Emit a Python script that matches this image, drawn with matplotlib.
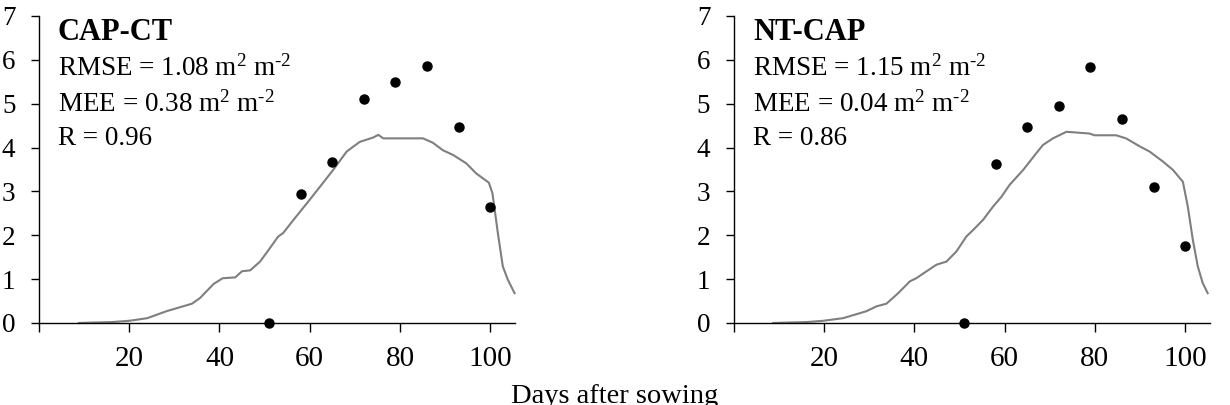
import matplotlib.pyplot as plt

plt.rcParams['font.family'] = ['Liberation Serif', 'DejaVu Serif']
plt.rcParams['mathtext.fontset'] = 'custom'
plt.rcParams['mathtext.rm'] = 'Liberation Serif'
plt.rcParams['mathtext.it'] = 'Liberation Serif:italic'
plt.rcParams['mathtext.bf'] = 'Liberation Serif:bold'

# observed LAI
obs_days = [51, 58, 65, 72, 79, 86, 93, 100]
obs_capct = [0.0, 2.94, 3.66, 5.1, 5.5, 5.87, 4.48, 2.65]
obs_ntcap = [0.0, 3.63, 4.48, 4.94, 5.83, 4.64, 3.1, 1.75]

# simulated LAI
sim_days_capct = [8.8, 12, 16, 20, 24, 28.3, 33.9, 35.7, 38.7, 40.7, 43.5, 45, 46.8, 49,
                  51.2, 53, 54.1, 56.4, 60, 62.3, 65.2, 68.2, 71.1, 74.1, 75.2, 76.3,
                  85.1, 87.3, 89.5, 91.8, 94.7, 96.9, 99.7, 100.5, 101.7, 102.8, 103.9, 105.4]
sim_capct = [0.0, 0.01, 0.02, 0.05, 0.11, 0.27, 0.44, 0.57, 0.89, 1.02, 1.04, 1.18, 1.2, 1.4,
             1.71, 1.97, 2.05, 2.35, 2.81, 3.11, 3.49, 3.91, 4.13, 4.23, 4.29, 4.21,
             4.21, 4.11, 3.94, 3.83, 3.64, 3.41, 3.2, 2.96, 2.05, 1.29, 0.99, 0.68]

sim_days_ntcap = [8.7, 12, 16, 19.8, 24.2, 29.4, 31.6, 33.8, 36.4, 39, 40.4, 42.7, 44.9, 47.1,
                  49.3, 51.5, 53, 55.2, 57.4, 59.3, 61.1, 64.1, 67, 68.5, 70.7, 73.7, 76.2,
                  78.8, 79.9, 84.7, 86.9, 89.9, 92.1, 95.1, 97.3, 99.5, 100.6, 101.7,
                  102.8, 103.9, 105.0]
sim_ntcap = [0.0, 0.01, 0.02, 0.05, 0.11, 0.27, 0.38, 0.44, 0.68, 0.95, 1.02, 1.18, 1.33, 1.4,
             1.63, 1.97, 2.12, 2.35, 2.65, 2.88, 3.15, 3.49, 3.87, 4.06, 4.21, 4.36, 4.34,
             4.32, 4.28, 4.28, 4.21, 4.03, 3.91, 3.68, 3.49, 3.22, 2.65, 1.9,
             1.29, 0.91, 0.68]

titles = ['CAP-CT', 'NT-CAP']
stats = [('1.08', '0.38', '0.96'), ('1.15', '0.04', '0.86')]
xticks = [0, 20, 40, 60, 80, 100]
xticklabels = ['', '20', '40', '60', '80', '100']

fig = plt.figure(figsize=(12.3, 4.05), dpi=100)
ax1 = fig.add_axes([0.0317, 0.2025, 0.387, 0.758])
ax2 = fig.add_axes([0.5967, 0.2025, 0.387, 0.758])

panels = [(ax1, sim_days_capct, sim_capct, obs_capct),
          (ax2, sim_days_ntcap, sim_ntcap, obs_ntcap)]

unit = r' m$^{2}$ m$^{\text{-}2}$'

for i, (ax, sd, sv, ov) in enumerate(panels):
    ax.plot(sd, sv, color='#7f7f7f', lw=1.5, clip_on=False)
    ax.plot(obs_days, ov, 'o', color='black', ms=6.5, clip_on=False, zorder=5)
    ax.set_xlim(0, 105.5)
    ax.set_ylim(0, 7)
    ax.set_xticks(xticks)
    ax.set_xticklabels(xticklabels)
    ax.set_yticks(range(8))
    ax.spines['top'].set_visible(False)
    ax.spines['right'].set_visible(False)
    for s in ['left', 'bottom']:
        ax.spines[s].set_linewidth(1.0)
    ax.tick_params(axis='y', direction='out', length=6, width=1.0, pad=11, labelsize=19.5)
    ax.tick_params(axis='x', direction='out', length=6.5, width=1.0, pad=10, labelsize=21)
    ax.text(4.2, 6.45, titles[i], fontsize=22, fontweight='bold', va='baseline')
    rmse, mee, r = stats[i]
    ax.text(4.2, 5.63, 'RMSE = ' + rmse + unit, fontsize=19.5, va='baseline')
    ax.text(4.2, 4.83, 'MEE = ' + mee + unit, fontsize=19.5, va='baseline')
    ax.text(4.2, 4.05, 'R = ' + r, fontsize=19.5, va='baseline')

fig.text(0.5, 0.006, 'Days after sowing', ha='center', va='baseline', fontsize=20.5)

fig.savefig('out.png', dpi=100)
